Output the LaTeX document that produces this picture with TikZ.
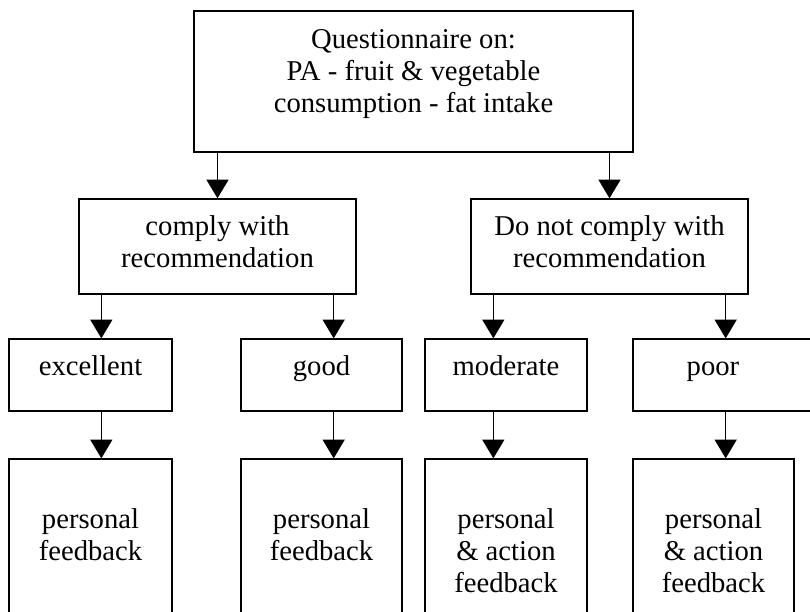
\documentclass[tikz,border=0pt]{standalone}
\usepackage{fontspec}
\setmainfont{Liberation Serif}
\usetikzlibrary{arrows.meta,calc}

\begin{document}
\begin{tikzpicture}[x=0.75pt,y=0.75pt,yscale=-1,xscale=1,
  box/.style 2 args={draw,line width=1pt,inner sep=0pt,minimum width=#1*0.75pt,minimum height=#2*0.75pt},
  txt/.style={align=center,inner sep=0.75pt,font=\fontsize{21.5}{24}\selectfont},
  arr/.style={line width=0.9pt,-{Triangle[width=16.5pt,length=14pt]}}]
\useasboundingbox (0,0) rectangle (810,611);
\clip (0,0) rectangle (810,611);

%Shape: Rectangle [questionnaire]
\node [box={439}{141}] (quest) at (413.5,81.5) {};
%Shape: Rectangle [comply / do not comply]
\node [box={277}{95}] (comply) at (217.5,246.5) {};
\node [box={277}{95}] (nocomply) at (609.5,246.5) {};
%Shape: Rectangle [levels]
\node [box={163}{72}] (excl) at (90.5,375) {};
\node [box={161}{72}] (good) at (321.5,375) {};
\node [box={162}{72}] (moder) at (506,375) {};
\node [box={182}{72}] (poor) at (724,375) {};
%Shape: Rectangle [feedback]
\node [box={163}{161}] (fbexcl) at (90.5,539.5) {};
\node [box={161}{161}] (fbgood) at (321.5,539.5) {};
\node [box={162}{161}] (fbmoder) at (506,539.5) {};
\node [box={161}{161}] (fbpoor) at (713.5,539.5) {};

% Text Node
\node [txt,anchor=north] (questtxt) at (413.5,28) {Questionnaire on:\\PA - fruit \& vegetable\\consumption - fat intake};
% Text Node
\node [txt,anchor=north] (complytxt) at (217.5,214.5) {comply with\\recommendation};
% Text Node
\node [txt,anchor=north] (nocomplytxt) at (609.5,214.5) {Do not comply with\\recommendation};
% Text Node
\node [txt,anchor=base] (excltxt) at (90.5,375) {excellent};
% Text Node
\node [txt,anchor=base] (goodtxt) at (321.5,375) {good};
% Text Node
\node [txt,anchor=base] (modertxt) at (506,375) {moderate};
% Text Node
\node [txt,anchor=base] (poortxt) at (713,375) {poor};
% Text Node
\node [txt,anchor=north] (fbexcltxt) at (90.5,507.5) {personal\\feedback};
% Text Node
\node [txt,anchor=north] (fbgoodtxt) at (321.5,507.5) {personal\\feedback};
% Text Node
\node [txt,anchor=north] (fbmodertxt) at (506,507.5) {personal\\\& action\\feedback};
% Text Node
\node [txt,anchor=north] (fbpoortxt) at (713.5,507.5) {personal\\\& action\\feedback};

%Arrows
\draw [arr] (quest.south -| comply.north) -- (comply.north);
\draw [arr] (quest.south -| nocomply.north) -- (nocomply.north);
\coordinate (a1) at ($(comply.south west)+(23,0)$);
\coordinate (a2) at ($(comply.south east)+(-23,0)$);
\coordinate (a3) at ($(nocomply.south west)+(23,0)$);
\coordinate (a4) at ($(nocomply.south east)+(-23,0)$);
\draw [arr] (a1) -- (a1 |- excl.north);
\draw [arr] (a2) -- (a2 |- good.north);
\draw [arr] (a3) -- (a3 |- moder.north);
\draw [arr] (a4) -- (a4 |- poor.north);
\draw [arr] (a1 |- excl.south) -- (a1 |- fbexcl.north);
\draw [arr] (a2 |- good.south) -- (a2 |- fbgood.north);
\draw [arr] (a3 |- moder.south) -- (a3 |- fbmoder.north);
\draw [arr] (a4 |- poor.south) -- (a4 |- fbpoor.north);

\end{tikzpicture}
\end{document}
